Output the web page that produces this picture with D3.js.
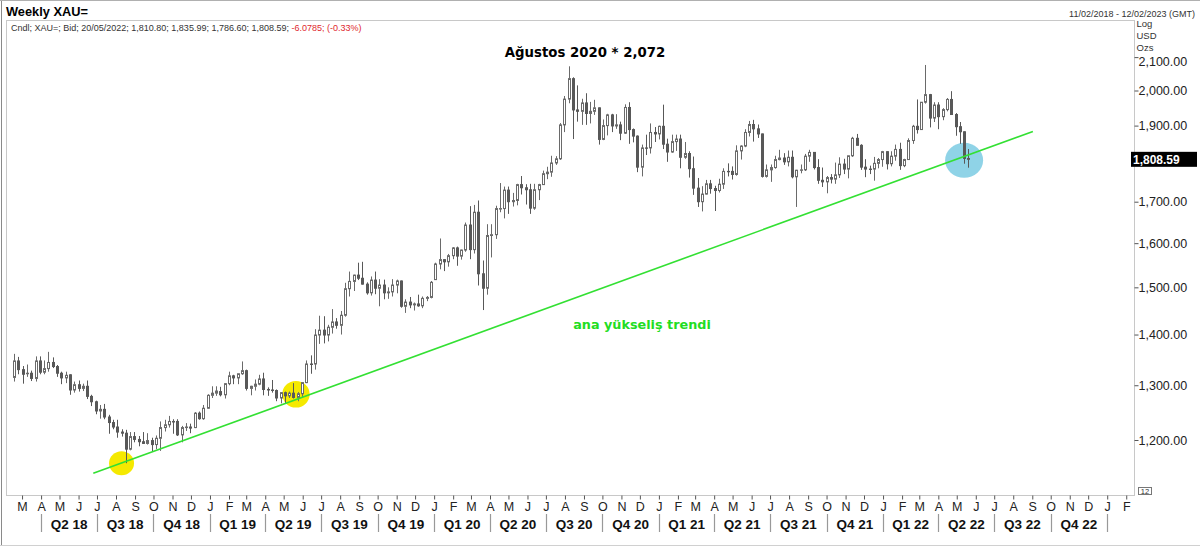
<!DOCTYPE html>
<html><head><meta charset="utf-8">
<script src="https://cdn.jsdelivr.net/npm/d3@7"></script>
<style>
html,body{margin:0;padding:0;background:#fff;}
svg{display:block;}
text{font-family:"Liberation Sans",Arial,sans-serif;}
</style></head>
<body>
<svg id="c" width="1200" height="549"></svg>
<script>
// ---------- DATA (weekly XAU= candles, [open, high, low, close]) ----------
const firstWeek = "2018-02-16";
const w2018 = [
[1315,1361,1307,1347],[1347,1355,1321,1330],[1330,1337,1303,1321],[1322,1340,1316,1323],
[1323,1328,1308,1313],[1313,1356,1307,1347],[1347,1356,1321,1325],[1325,1348,1321,1332],
[1332,1365,1326,1344],[1344,1354,1333,1336],[1336,1339,1316,1323],[1323,1326,1302,1314],
[1314,1326,1304,1319],[1320,1321,1282,1291],[1291,1307,1286,1301],[1301,1309,1288,1294],
[1294,1303,1289,1298],[1298,1309,1274,1279],[1279,1282,1261,1269],[1269,1271,1246,1252],
[1252,1263,1238,1255],[1255,1265,1237,1241],[1241,1245,1211,1231],[1231,1236,1219,1223],
[1223,1236,1204,1214],[1214,1219,1206,1212],[1212,1218,1160,1184],[1184,1214,1182,1206],
[1206,1214,1196,1201],[1201,1207,1189,1197],[1197,1214,1193,1194],[1194,1212,1192,1199],
[1199,1204,1180,1192],[1192,1208,1184,1203],[1203,1233,1181,1222],[1222,1236,1215,1227],
[1227,1243,1222,1233],[1233,1237,1211,1232],[1233,1237,1207,1209],[1209,1225,1196,1222],
[1222,1230,1216,1223],[1223,1229,1212,1221],[1222,1250,1221,1248],[1248,1251,1236,1238],
[1238,1263,1236,1257],[1257,1283,1256,1281]
];
const w2019 = [
[1281,1298,1276,1285],[1285,1298,1280,1289],[1288,1297,1279,1282],[1282,1304,1275,1303],
[1303,1326,1300,1318],[1318,1320,1302,1314],[1314,1322,1302,1322],[1322,1346,1320,1328],
[1328,1330,1290,1294],[1294,1299,1281,1298],[1298,1311,1290,1302],[1302,1320,1300,1312],
[1312,1324,1281,1292],[1292,1296,1280,1291],[1291,1310,1286,1290],[1290,1292,1270,1276],
[1276,1287,1266,1286],[1286,1288,1266,1280],[1280,1288,1276,1285],[1285,1304,1275,1277],
[1277,1287,1270,1284],[1284,1306,1278,1305],[1305,1348,1304,1341],[1341,1358,1322,1340],
[1341,1411,1330,1399],[1399,1439,1381,1409],[1409,1438,1382,1399],[1399,1420,1386,1415],
[1415,1453,1402,1426],[1426,1434,1412,1419],[1419,1449,1400,1440],[1440,1510,1437,1497],
[1497,1535,1480,1513],[1513,1528,1492,1527],[1527,1555,1516,1520],[1520,1557,1506,1507],
[1507,1511,1484,1488],[1488,1524,1482,1516],[1516,1535,1485,1498],[1498,1518,1459,1505],
[1505,1517,1474,1488],[1488,1500,1475,1490],[1490,1518,1480,1505],[1505,1517,1487,1514],
[1514,1515,1456,1459],[1459,1474,1445,1468],[1468,1479,1455,1462],[1462,1467,1450,1464],
[1464,1484,1458,1460],[1460,1480,1455,1476],[1476,1481,1470,1478],[1478,1514,1476,1511]
];
const w2020 = [
[1517,1555,1517,1552],[1552,1611,1540,1562],[1562,1563,1536,1557],[1557,1575,1546,1571],
[1571,1591,1563,1589],[1589,1592,1548,1570],[1570,1585,1562,1584],[1584,1649,1580,1643],
[1643,1689,1563,1585],[1585,1692,1576,1674],[1674,1703,1504,1530],[1530,1560,1451,1498],
[1498,1645,1484,1618],[1618,1645,1567,1620],[1620,1690,1610,1683],[1683,1747,1674,1683],
[1683,1738,1659,1729],[1729,1738,1670,1700],[1700,1722,1688,1703],[1703,1745,1691,1743],
[1743,1765,1718,1735],[1735,1744,1693,1730],[1730,1745,1670,1684],[1684,1745,1680,1730],
[1730,1745,1704,1743],[1743,1779,1742,1771],[1771,1789,1757,1775],[1775,1818,1763,1799],
[1799,1817,1794,1810],[1810,1907,1807,1902],[1902,1984,1882,1975],[1975,2072,1963,2035],
[2035,2039,1863,1944],[1944,2015,1911,1940],[1940,1976,1902,1964],[1964,1992,1902,1934],
[1934,1967,1906,1940],[1940,1973,1930,1950],[1950,1951,1848,1862],[1862,1917,1860,1900],
[1900,1933,1873,1930],[1930,1933,1882,1899],[1899,1932,1891,1902],[1902,1911,1860,1879],
[1879,1960,1877,1951],[1951,1966,1850,1889],[1889,1892,1854,1871],[1871,1873,1775,1788],
[1788,1848,1764,1839],[1839,1875,1820,1838],[1839,1906,1824,1881],[1881,1896,1855,1877]
];
const w2021 = [
[1877,1900,1862,1898],[1898,1959,1836,1849],[1849,1864,1802,1828],[1828,1875,1826,1856],
[1856,1875,1831,1863],[1863,1875,1785,1814],[1814,1855,1810,1824],[1824,1830,1761,1784],
[1784,1816,1717,1734],[1734,1760,1687,1700],[1700,1739,1676,1719],[1719,1755,1718,1745],
[1745,1755,1720,1733],[1733,1740,1677,1728],[1728,1758,1723,1744],[1744,1785,1732,1777],
[1777,1798,1764,1776],[1777,1790,1756,1769],[1769,1846,1766,1831],[1831,1846,1808,1844],
[1844,1890,1841,1881],[1881,1913,1870,1903],[1903,1916,1856,1891],[1891,1903,1866,1877],
[1877,1878,1761,1764],[1764,1795,1761,1781],[1781,1795,1750,1787],[1787,1818,1784,1808],
[1808,1834,1806,1812],[1812,1825,1794,1802],[1802,1832,1790,1814],[1814,1832,1759,1763],
[1763,1781,1687,1780],[1780,1795,1772,1781],[1781,1823,1778,1817],[1817,1834,1802,1827],
[1827,1827,1782,1787],[1787,1809,1745,1754],[1754,1787,1737,1750],[1750,1765,1721,1761],
[1761,1770,1746,1757],[1757,1800,1745,1768],[1768,1814,1760,1796],[1796,1810,1770,1783],
[1783,1818,1759,1818],[1818,1869,1815,1865],[1865,1877,1846,1846],[1846,1849,1781,1788],
[1788,1809,1762,1783],[1783,1792,1770,1782],[1783,1815,1753,1798],[1798,1812,1785,1808],
[1808,1831,1789,1829]
];
const w2022 = [
[1829,1830,1782,1797],[1797,1830,1790,1817],[1817,1848,1805,1835],[1835,1853,1781,1792],
[1792,1810,1788,1808],[1808,1865,1807,1859],[1859,1902,1850,1898],[1898,1974,1878,1889],
[1889,1966,1889,1966],[1966,2076,1962,1988],[1988,1990,1895,1921],[1921,1966,1910,1958],
[1958,1966,1890,1925],[1925,1949,1915,1945],[1945,1978,1940,1974],[1974,1998,1931,1931],
[1931,1935,1872,1897],[1897,1910,1850,1883],[1883,1884,1797,1811],[1810.80,1835.99,1786.60,1808.59]
];
const yTicks = [1200,1300,1400,1500,1600,1700,1800,1900,2000,2100];
const monthLetters = ["J","F","M","A","M","J","J","A","S","O","N","D"];
const quarterLabels = ["Q2 18","Q3 18","Q4 18","Q1 19","Q2 19","Q3 19","Q4 19","Q1 20","Q2 20","Q3 20",
  "Q4 20","Q1 21","Q2 21","Q3 21","Q4 21","Q1 22","Q2 22","Q3 22","Q4 22"];
const lastPrice = 1808.59;
const trendLine = [{d:"2018-06-25", p:1143},{d:"2022-09-02", p:1884}];
const marks = [{d:"2018-08-10", p:1160, rx:12.5, ry:12, color:"#f5e900"},
               {d:"2019-05-21", p:1283, rx:13.7, ry:13.3, color:"#f5e900"},
               {d:"2022-05-13", p:1806, rx:19, ry:17.5, color:"#8fd3e7"}];

// ---------- CHART ----------
const svg = d3.select("#c");
const P = d3.utcParse("%Y-%m-%d");
const rows = [].concat(w2018,w2019,w2020,w2021,w2022);
const start = P(firstWeek);
const data = rows.map((r,i)=>({date:d3.utcDay.offset(start,7*i),o:r[0],h:r[1],l:r[2],c:r[3]}));

const x = d3.scaleUtc().domain([P("2018-02-11"),P("2023-02-12")]).range([11,1133]);
const y = d3.scaleLog().domain([1200,2000]).range([440,90.5]);

const box = {l:6.5,t:20.5,r:1134.5,b:495.5};

// outer frame
svg.append("line").attr("x1",1.5).attr("x2",1.5).attr("y1",0).attr("y2",546).attr("stroke","#8a8a8a");
svg.append("line").attr("x1",0).attr("x2",1200).attr("y1",0.5).attr("y2",0.5).attr("stroke","#b0b0b0");
svg.append("line").attr("x1",0).attr("x2",1200).attr("y1",545.5).attr("y2",545.5).attr("stroke","#d0d0d0");

// header
svg.append("text").attr("x",6).attr("y",15.5).attr("font-size","12.8px").attr("font-weight","bold").attr("fill","#000").text("Weekly XAU=");
svg.append("text").attr("x",1195).attr("y",16.5).attr("font-size","9px").attr("fill","#333").attr("text-anchor","end").text("11/02/2018 - 12/02/2023 (GMT)");

// plot box
svg.append("rect").attr("x",box.l).attr("y",box.t).attr("width",box.r-box.l).attr("height",box.b-box.t)
  .attr("fill","#fff").attr("stroke","#c8c8c8");

const info = svg.append("text").attr("x",11).attr("y",30.5).attr("font-size","9px").attr("fill","#333");
info.append("tspan").text("Cndl; XAU=; Bid; 20/05/2022; 1,810.80; 1,835.99; 1,786.60; 1,808.59; ");
info.append("tspan").attr("fill","#e0282e").text("-6.0785; (-0.33%)");

// axis unit labels
["Log","USD","Ozs"].forEach((t,i)=>svg.append("text").attr("x",1136.5).attr("y",26.5+i*12).attr("font-size","9.5px").attr("fill","#333").text(t));

// y axis (right)
const yAxis = d3.axisRight(y).tickValues(yTicks).tickSize(4)
  .tickFormat(d => d === 1800 ? "" : d3.format(",.2f")(d)); // 1,800 sits under the last-price box
const gy = svg.append("g").attr("transform",`translate(${box.r},0)`).call(yAxis);
gy.select(".domain").remove();
gy.selectAll(".tick line").attr("stroke","#555");
gy.selectAll(".tick text").attr("x",4).attr("font-size","12.5px").attr("fill","#222");
gy.selectAll(".tick").filter(d=>d===2100).select("text").attr("dy","0.67em");

// x axis months
const months = d3.utcMonth.range(P("2018-03-01"),P("2023-03-01"));
const xAxis = d3.axisBottom(x).tickValues(months).tickSize(4).tickFormat(d=>monthLetters[d.getUTCMonth()]);
const gx = svg.append("g").attr("transform",`translate(0,${box.b})`).call(xAxis);
gx.select(".domain").remove();
gx.selectAll(".tick line").attr("stroke","#555");
gx.selectAll(".tick text").attr("y",7).attr("font-size","12.5px").attr("fill","#222");

// quarters
const qStarts = d3.utcMonth.every(3).range(P("2018-04-01"),P("2023-02-01"));
svg.append("g").selectAll("line").data(qStarts).join("line")
  .attr("x1",d=>Math.round(x(d))+0.5).attr("x2",d=>Math.round(x(d))+0.5)
  .attr("y1",514).attr("y2",532).attr("stroke","#999").attr("stroke-width",1.2);
svg.append("g").selectAll("text").data(quarterLabels).join("text")
  .attr("x",(d,i)=>(x(qStarts[i])+x(qStarts[i+1]))/2).attr("y",528.5)
  .attr("text-anchor","middle").attr("font-size","13.5px").attr("font-weight","bold").attr("fill","#111").text(d=>d);

// small "12" box
svg.append("rect").attr("x",1138.5).attr("y",487.5).attr("width",13).attr("height",7).attr("fill","#fff").attr("stroke","#777");
svg.append("text").attr("x",1145).attr("y",494).attr("font-size","7.5px").attr("text-anchor","middle").attr("fill","#333").text("12");

// highlight circles
svg.append("g").selectAll("ellipse").data(marks).join("ellipse")
  .attr("cx",d=>x(P(d.d))).attr("cy",d=>y(d.p)).attr("rx",d=>d.rx).attr("ry",d=>d.ry).attr("fill",d=>d.color);

// candles
const gc = svg.append("g");
data.forEach(d=>{
  const L = Math.round(x(d.date))-1;
  const up = d.c >= d.o;
  const col = up ? "#6a6a6a" : "#585858";
  gc.append("line").attr("x1",L+1.5).attr("x2",L+1.5).attr("y1",y(d.h)).attr("y2",y(d.l)).attr("stroke",col).attr("stroke-width",1);
  const top = y(Math.max(d.o,d.c)), bot = y(Math.min(d.o,d.c));
  if(up){
    gc.append("rect").attr("x",L+0.5).attr("y",top).attr("width",2).attr("height",Math.max(bot-top,0.5))
      .attr("fill","#fff").attr("stroke",col).attr("stroke-width",1);
  } else {
    gc.append("rect").attr("x",L).attr("y",top-0.5).attr("width",3).attr("height",Math.max(bot-top+1,1)).attr("fill",col);
  }
});

// trend line
svg.append("line").attr("x1",x(P(trendLine[0].d))).attr("y1",y(trendLine[0].p))
  .attr("x2",x(P(trendLine[1].d))).attr("y2",y(trendLine[1].p))
  .attr("stroke","#33e033").attr("stroke-width",1.6);

// annotations
svg.append("text").attr("x",585).attr("y",56.5).attr("text-anchor","middle")
  .style("font-family","'DejaVu Sans', Verdana, sans-serif")
  .attr("font-size","13.3px").attr("font-weight","bold").attr("fill","#000").text("Ağustos 2020 * 2,072");
svg.append("text").attr("x",642).attr("y",329).attr("text-anchor","middle")
  .style("font-family","'DejaVu Sans', Verdana, sans-serif")
  .attr("font-size","12.8px").attr("font-weight","bold").attr("fill","#22dd22").text("ana yükseliş trendi");

// last price label
const ly = y(lastPrice);
svg.append("rect").attr("x",1131).attr("y",ly-7.5).attr("width",66).attr("height",15).attr("fill","#000");
svg.append("text").attr("x",1133).attr("y",ly+4.5).attr("font-size","12px").attr("font-weight","bold").attr("fill","#fff").text(d3.format(",.2f")(lastPrice));
</script>
</body></html>
